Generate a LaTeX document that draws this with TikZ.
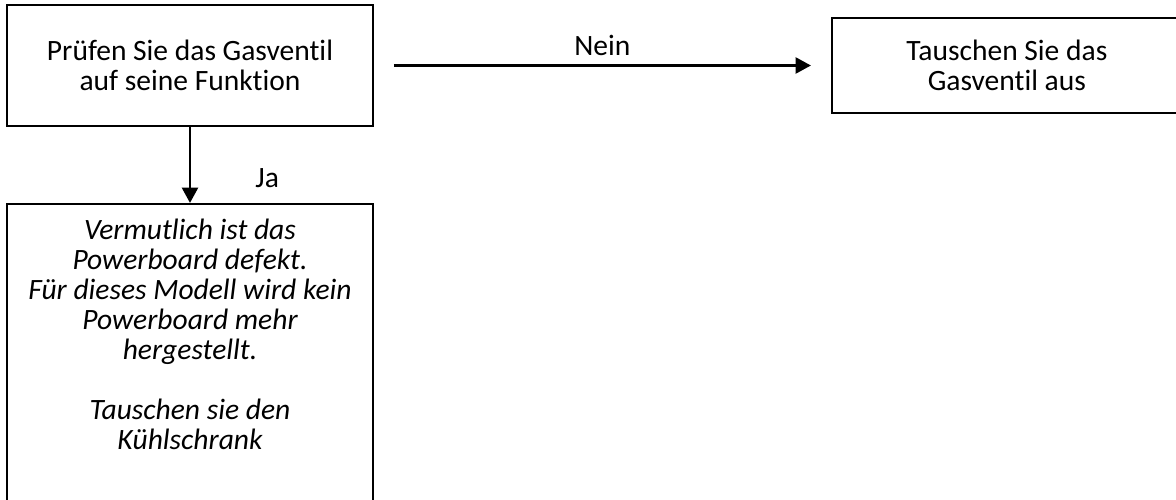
\documentclass[tikz,border=0pt]{standalone}
\usepackage{fontspec}
\setmainfont{Carlito}[Ligatures=NoCommon]
\usepackage{tikz}
\usetikzlibrary{arrows.meta,positioning}

\begin{document}
\begin{tikzpicture}[node distance=1cm]
\tikzset{basicbox/.style={draw=black, line width=1.3pt, fill=white, align=center, text=black, font=\fontsize{21}{21.3}\selectfont}, labeltext/.style={font=\fontsize{21}{21.3}\selectfont}, arrowstyle/.style={-{Triangle[length=0.38cm, width=0.4cm]}, line width=1.5pt, black}}
\useasboundingbox (0,0) rectangle (29.4,-12.5);
\node[basicbox, minimum width=9.15cm, minimum height=3.025cm] (check) at (4.75,-1.6375) {Prüfen Sie das Gasventil\\auf seine Funktion};
\node[basicbox, minimum width=8.75cm, minimum height=2.375cm, right=11.425cm of check] (swap) {Tauschen Sie das\\Gasventil aus};
\node[basicbox, minimum width=9.15cm, minimum height=8cm, below=1.9cm of check] (outcome) {};
\node[labeltext, align=center, inner sep=0pt, font=\fontsize{21}{21.3}\selectfont\itshape, below=0.4cm of outcome.north] (outcometext) {Vermutlich ist das\\Powerboard defekt.\\Für dieses Modell wird kein\\Powerboard mehr\\hergestellt.\\[0.75cm]Tauschen sie den\\Kühlschrank};
\draw[arrowstyle, shorten <=0.5cm, shorten >=0.5cm] (check.east) -- node[labeltext, above=0.1cm] (nein) {Nein} (swap.west);
\draw[arrowstyle] (check.south) -- node[labeltext, pos=0.67, xshift=1.93cm] (ja) {Ja} (outcome.north);
\end{tikzpicture}
\end{document}
